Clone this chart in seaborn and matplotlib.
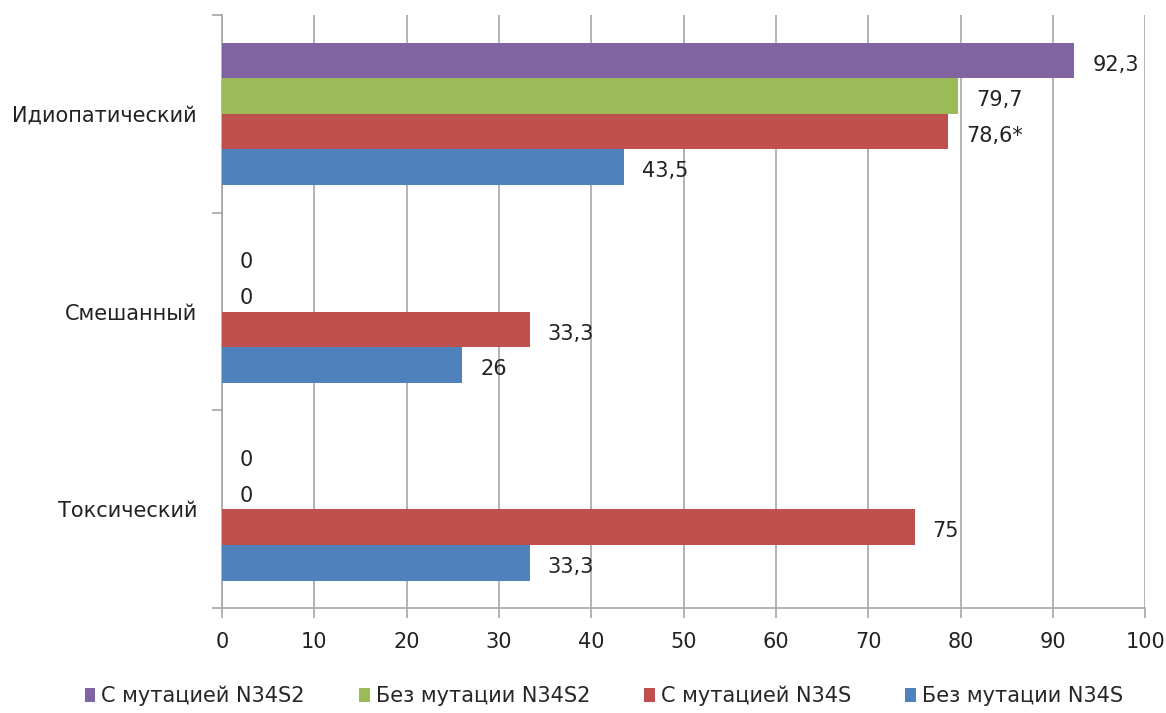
import pandas as pd
import matplotlib
matplotlib.use("Agg")
import matplotlib.pyplot as plt
import seaborn as sns
from matplotlib.ticker import FixedLocator

categories = ["Идиопатический", "Смешанный", "Токсический"]
series = ["С мутацией N34S2", "Без мутации N34S2", "С мутацией N34S", "Без мутации N34S"]
colors = ["#8064A2", "#9BBB59", "#C0504D", "#4F81BD"]

with_n34s2 = [92.3, 0, 0]
without_n34s2 = [79.7, 0, 0]
with_n34s = [78.6, 33.3, 75]
without_n34s = [43.5, 26, 33.3]
labels = [
    ["92,3", "0", "0"],
    ["79,7", "0", "0"],
    ["78,6*", "33,3", "75"],
    ["43,5", "26", "33,3"],
]

values = [with_n34s2, without_n34s2, with_n34s, without_n34s]
rows = []
for s, vals in zip(series, values):
    for c, v in zip(categories, vals):
        rows.append({"cat": c, "series": s, "value": v})
df = pd.DataFrame(rows)

sns.set_style("white")
plt.rcParams["font.family"] = ["DejaVu Sans"]

fig = plt.figure(figsize=(11.66, 7.13), dpi=100)
ax = fig.add_axes([0.1904, 0.147, 0.792, 0.832])

sns.barplot(data=df, x="value", y="cat", hue="series", order=categories,
            hue_order=series, palette=colors, orient="h", width=0.72,
            saturation=1, errorbar=None, linewidth=0, ax=ax, zorder=3)

# value labels
for cont, labs in zip(ax.containers, labels):
    for bar, lab in zip(cont, labs):
        x = bar.get_width()
        y = bar.get_y() + bar.get_height() / 2
        ax.annotate(lab, (x, y), xytext=(13, -3), textcoords="offset points",
                    va="center", ha="left", fontsize=15, color="#222222")

ax.set_xlim(0, 100)
ax.set_ylim(2.5, -0.5)
ax.set_xticks(range(0, 101, 10))
ax.xaxis.grid(True, color="#a6a6a6", linewidth=1.2, zorder=0)
ax.set_xlabel("")
ax.set_ylabel("")
ax.tick_params(axis="x", labelsize=15, pad=10, length=7, color="#a6a6a6",
               width=1.2, bottom=True, labelcolor="#222222")
ax.tick_params(axis="y", which="major", length=0, labelsize=15, pad=18,
               labelcolor="#222222")
ax.yaxis.set_minor_locator(FixedLocator([-0.5, 0.5, 1.5, 2.5]))
ax.tick_params(axis="y", which="minor", length=7, color="#a6a6a6", width=1.2, left=True)
for sp in ["top", "right"]:
    ax.spines[sp].set_visible(False)
for sp in ["left", "bottom"]:
    ax.spines[sp].set_color("#a6a6a6")
    ax.spines[sp].set_linewidth(1.2)

handles, labs = ax.get_legend_handles_labels()
ax.get_legend().remove()
fig.legend(handles, labs, loc="center", bbox_to_anchor=(0.518, 0.024),
           ncol=4, frameon=False, fontsize=15, handlelength=0.5,
           handleheight=0.7, handletextpad=0.3, columnspacing=2.6)

fig.savefig("out.png", dpi=100)
